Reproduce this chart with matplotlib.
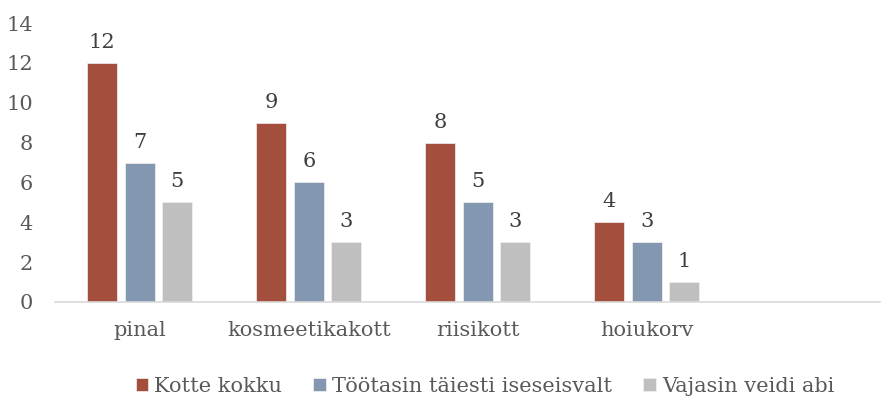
import matplotlib
matplotlib.use("Agg")
import matplotlib.pyplot as plt
import numpy as np

categories = ["pinal", "kosmeetikakott", "riisikott", "hoiukorv"]
series_names = ["Kotte kokku", "Töötasin täiesti iseseisvalt", "Vajasin veidi abi"]
kotte_kokku = [12, 9, 8, 4]
iseseisvalt = [7, 6, 5, 3]
veidi_abi = [5, 3, 3, 1]
colors = ["#A44E3E", "#8497B0", "#BFBFBF"]
y_ticks = [0, 2, 4, 6, 8, 10, 12, 14]

plt.rcParams["font.family"] = ["DejaVu Serif Condensed", "DejaVu Serif"]
text_color = "#595959"

dpi = 100
fig = plt.figure(figsize=(8.9, 4.13), dpi=dpi)
ax = fig.add_axes([0.062, 0.269, 0.927, 0.675])

x = np.arange(len(categories))
width = 0.178
step = 0.222
all_values = [kotte_kokku, iseseisvalt, veidi_abi]
for i, (vals, name, c) in enumerate(zip(all_values, series_names, colors)):
    bars = ax.bar(x + (i - 1) * step, vals, width, color=c, label=name,
                  edgecolor="#F2F2F2", linewidth=0.5)
    for b, v in zip(bars, vals):
        ax.text(b.get_x() + b.get_width() / 2, v + 0.55, str(v),
                ha="center", va="bottom", fontsize=15, color="#404040")

ax.set_xlim(-0.5, 4.38)
ax.set_ylim(0, 14)
ax.set_yticks(y_ticks)
ax.set_xticks(x)
ax.set_xticklabels(categories)

for s in ["top", "right", "left"]:
    ax.spines[s].set_visible(False)
ax.spines["bottom"].set_color("#D9D9D9")
ax.spines["bottom"].set_linewidth(1.2)
ax.tick_params(axis="both", length=0, labelsize=15, colors=text_color)
ax.tick_params(axis="x", pad=14)
ax.tick_params(axis="y", pad=16)
for lbl in ax.get_yticklabels():
    lbl.set_horizontalalignment("right")

fig.legend(loc="center", bbox_to_anchor=(0.545, 0.065), ncol=3, frameon=False,
           fontsize=15, handlelength=0.6, handleheight=0.6, handletextpad=0.3,
           columnspacing=1.5, labelcolor=text_color)

fig.savefig("out.png", dpi=dpi)
